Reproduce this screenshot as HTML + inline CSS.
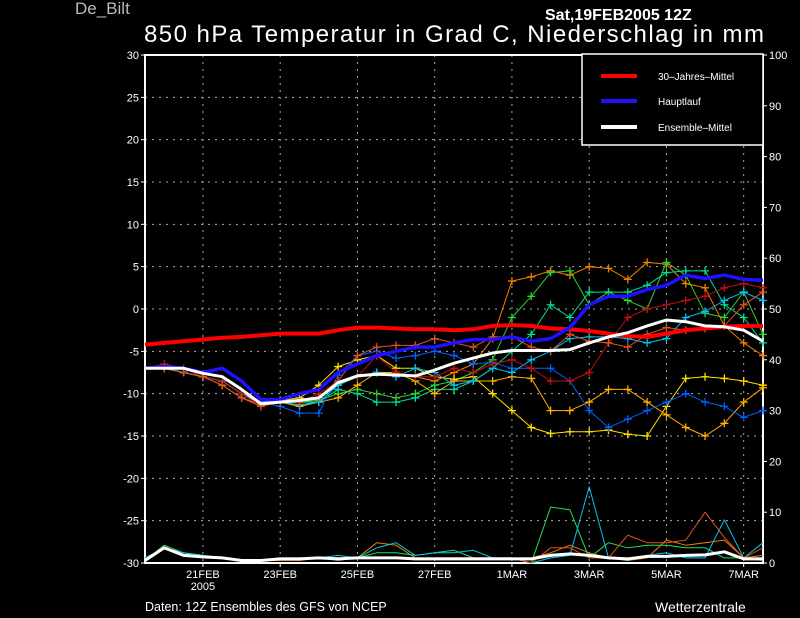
<!DOCTYPE html>
<html><head><meta charset="utf-8"><style>
html,body{margin:0;padding:0;background:#000;width:800px;height:618px;overflow:hidden}
svg{display:block;font-family:"Liberation Sans",sans-serif}
</style></head><body>
<svg id="c" width="800" height="618" viewBox="0 0 800 618">
<rect width="800" height="618" fill="#000"/>
<text x="75" y="14" fill="#bbb" font-size="17">De_Bilt</text>
<text x="545" y="20" fill="#fff" font-size="16" font-weight="bold">Sat,19FEB2005 12Z</text>
<text x="144" y="42" fill="#fff" font-size="24" textLength="620">850 hPa Temperatur in Grad C, Niederschlag in mm</text>
<g id="grid"></g>
<g id="axes"></g>
<g id="series"></g>
<g>
<rect x="582" y="54" width="181" height="91" fill="#000" stroke="#fff" stroke-width="1.5"/>
<line x1="601" y1="76" x2="637" y2="76" stroke="#f00" stroke-width="4"/>
<text x="658" y="80" fill="#fff" font-size="10">30–Jahres–Mittel</text>
<line x1="601" y1="101" x2="637" y2="101" stroke="#2010ff" stroke-width="4"/>
<text x="658" y="105" fill="#fff" font-size="10">Hauptlauf</text>
<line x1="601" y1="127" x2="637" y2="127" stroke="#fff" stroke-width="4"/>
<text x="658" y="131" fill="#fff" font-size="10">Ensemble–Mittel</text>
</g>
<text x="145" y="611" fill="#fff" font-size="12.5">Daten: 12Z Ensembles des GFS von NCEP</text>
<text x="655" y="612" fill="#fff" font-size="14">Wetterzentrale</text>
</svg>
<script>
const tempTicks=[30,25,20,15,10,5,0,-5,-10,-15,-20,-25,-30];
const precipTicks=[100,90,80,70,60,50,40,30,20,10,0];
const dateLabels=["21FEB","23FEB","25FEB","27FEB","1MAR","3MAR","5MAR","7MAR"];
const dateIdx=[3,7,11,15,19,23,27,31];
const climate=[-4.2,-4.0,-3.8,-3.6,-3.4,-3.3,-3.1,-2.9,-2.9,-2.9,-2.5,-2.2,-2.2,-2.3,-2.4,-2.4,-2.5,-2.4,-2.0,-1.9,-2.0,-2.3,-2.4,-2.6,-2.9,-3.2,-3.3,-2.9,-2.5,-2.3,-2.1,-2.0,-2.0];
const ensMean=[-7,-7,-7,-7.6,-8,-9.5,-11.2,-11,-10.8,-10.5,-8.7,-7.9,-7.7,-7.8,-7.9,-7.2,-6.4,-5.8,-5.2,-4.9,-4.9,-4.9,-4.8,-4,-3.3,-2.8,-2,-1.3,-1.5,-2,-2.1,-2.5,-3.8];
const mainRun=[-7,-6.8,-7,-7.5,-7,-8.5,-10.7,-10.7,-10,-9.5,-7.5,-6.5,-5.5,-5,-4.5,-4.5,-4,-3.6,-3.6,-3.3,-3.8,-3.5,-2.2,0.5,1.5,1.5,2.3,2.8,4,3.6,4,3.5,3.4];
const memA=[-7,-7,-7.5,-8,-9,-10.5,-11.3,-11,-11,-10.5,-9,-8,-7.5,-7.5,-8,-8.5,-7.5,-6.5,-3.5,3.3,3.8,4.5,4,5,4.8,3.5,5.5,5.3,3,2.5,-2,-4,-5.5];
const memB=[-7,-7,-7.5,-8,-8.5,-10,-11,-11,-11,-10.8,-10,-9.5,-10,-10.5,-10,-9,-8.5,-7.5,-6,-1,1.5,4.3,4.5,0.5,2,1,0,5.5,4,-0.5,-1,2,-3];
const memC=[-7,-7,-7.5,-8,-8.5,-10,-11,-11,-11,-11,-9.5,-10,-11,-11,-10.5,-9.5,-9.5,-8.5,-7,-5,-3,0.5,-1,2,2,2,2.8,4.3,4.5,4.5,0.5,-1,-4];
const memD=[-7,-7,-7.5,-8,-8.5,-10,-11,-10.8,-10.5,-9,-6.8,-6,-5.5,-7,-7,-8,-8.3,-8,-10,-12,-14,-14.7,-14.5,-14.5,-14.3,-14.8,-15,-11.5,-8.2,-8,-8.2,-8.5,-9];
const memE=[-7,-7,-7.5,-8,-8.5,-10,-11.2,-11,-11.5,-11,-10.5,-9,-7.5,-7.5,-8.5,-10,-8.5,-8.5,-8.5,-8,-8.2,-12,-12,-11,-9.5,-9.5,-11,-12.5,-14,-15,-13.5,-11,-9.3];
const memF=[-7,-7,-7.5,-8,-8.5,-10,-11,-11.5,-12.3,-12.3,-7.8,-5.5,-5,-5.8,-5.5,-5,-5.5,-6.5,-6.3,-7,-7,-7,-8.5,-12,-14,-13,-12,-11,-10,-11,-11.5,-12.8,-12];
const memG=[-7,-7,-7.5,-8,-8.5,-10,-11,-11,-11.3,-11,-9,-8,-7.5,-8,-7,-7.5,-9,-8.5,-7,-7.5,-6,-5,-3.5,-3.3,-3.3,-3.5,-4,-3.5,-1,-0.3,1,2,1];
const memH=[-7,-6.5,-7,-8,-8.5,-10,-11.5,-11,-11,-10,-8.5,-8,-5.5,-7.5,-8,-8,-7,-7.5,-6.5,-6,-7,-8.5,-8.5,-7.5,-4,-1,0,0.5,1,1.5,2.5,3,2.5];
const memI=[-7,-7,-7.5,-8,-9,-10.5,-11.5,-11,-11,-10.5,-8.5,-5.5,-4.5,-4.3,-4.3,-3.5,-4,-4.5,-3.3,-3.3,-4.5,-5,-3,-3.8,-4,-4.5,-3,-2.2,-2.5,-2.3,-2,0.5,2];
const prA=[1,3,2,1.5,1,0.5,0.5,0.5,0.5,1,1,1,4,3.5,1,1,1,1,1,1,1,2,3.5,2,1,0.5,1,4.5,3.5,4,4.5,1,1.5];
const prB=[0.5,3.5,2,1,1,0.5,0.5,0.5,1,1,1,1,2,2,1.5,2,2.5,1,1,1,0,11,10.5,1,4,3,3.5,3.5,3,3,1,1,0.5];
const prC=[1,3,2,1.5,1,0.5,0.5,1,1,1,1.5,1,3,4,1.5,2,2,2.5,1,1,0,1,1.5,15,1,0.5,1.5,2,1,1,8.5,1,4];
const prD=[0.5,3,1.5,1,1,0.5,0.5,0.5,0.5,1,0.5,1,1,1,1,1,1,1,1,1,0,3,3,1,1,5.5,4,4,4.5,10,5,1,3];
const prMean=[0.5,3,1.5,1.2,1,0.5,0.5,0.8,0.8,1,0.8,1,1,1,0.8,0.8,0.8,0.8,0.8,0.8,0.8,1.5,1.8,1.5,1,0.8,1.3,1.3,1.5,1.6,2.2,0.8,0.8];
const members=[memA,memB,memC,memD,memE,memF,memG,memH,memI];
const memColors=["#f08000","#30d030","#00e090","#ffe000","#ffb000","#0060ff","#00c0f0","#c01010","#e05020"];
const precs=[prA,prB,prC,prD];
const precColors=["#f08000","#20e060","#00c8f0","#e05020"];
const NS="http://www.w3.org/2000/svg";
const X0=145,X1=763,Y0=55,Y1=563;
const xs=i=>X0+i*(X1-X0)/32;
const yT=v=>Y1-(v+30)/60*(Y1-Y0);
const yP=v=>Y1-v/100*(Y1-Y0);
function mk(tag,attrs,parent){const e=document.createElementNS(NS,tag);for(const k in attrs)e.setAttribute(k,attrs[k]);parent.appendChild(e);return e;}
const grid=document.getElementById('grid'),axes=document.getElementById('axes'),ser=document.getElementById('series');
tempTicks.forEach(t=>{const y=yT(t);
 if(t>-30&&t<30){const l=mk('line',{x1:X0,x2:X1,y1:y,y2:y,stroke:'#aaa','stroke-dasharray':'2,5','stroke-width':1},grid);}
 const tx=mk('text',{x:139,y:y+4,fill:'#fff','font-size':11,'text-anchor':'end'},axes);tx.textContent=t;
 
 
 mk('line',{x1:X0-4,x2:X0,y1:y,y2:y,stroke:'#fff'},axes);});
precipTicks.forEach(t=>{const y=yP(t);
 const tx=mk('text',{x:769,y:y+4,fill:'#fff','font-size':11},axes);tx.textContent=t;
 
 
 mk('line',{x1:X1,x2:X1+4,y1:y,y2:y,stroke:'#fff'},axes);});
dateLabels.forEach((d,k)=>{const x=xs(dateIdx[k]);
 const l=mk('line',{x1:x,x2:x,y1:Y0,y2:Y1,stroke:'#aaa','stroke-dasharray':'2,5'},grid);
 
 
 mk('line',{x1:x,x2:x,y1:Y1,y2:Y1+4,stroke:'#fff'},axes);
 const tx=mk('text',{x:x,y:578,fill:'#fff','font-size':11,'text-anchor':'middle'},axes);tx.textContent=d;
 
 });
const yr=mk('text',{x:xs(3),y:590,fill:'#fff','font-size':11,'text-anchor':'middle'},axes);yr.textContent='2005';


const frame=mk('rect',{x:X0,y:Y0,width:X1-X0,height:Y1-Y0,fill:'none',stroke:'#fff','stroke-width':2},axes);


function line(arr,sc,col,w,name){const p=arr.map((v,i)=>xs(i).toFixed(1)+','+sc(v).toFixed(1)).join(' ');
 const e=mk('polyline',{points:p,fill:'none',stroke:col,'stroke-width':w,'stroke-linejoin':'round'},ser);
 
 return e;}
precs.forEach((a,k)=>line(a,yP,precColors[k],1,'precip-member'));
line(prMean,yP,'#fff',3,'precip-mean');
members.forEach((a,k)=>{line(a,yT,memColors[k],1,'temp-member');
 a.forEach((v,i)=>{if(i<1)return;const x=xs(i),y=yT(v);
  const m=mk('path',{d:`M${x-4},${y}H${x+4}M${x},${y-4}V${y+4}`,stroke:memColors[k],'stroke-width':1.3},ser);
  
  });});
line(climate,yT,'#f00',4,'climate-mean-line');
line(mainRun,yT,'#2010ff',3.5,'main-run-line');
line(ensMean,yT,'#fff',3,'ensemble-mean-line');
</script>
</body></html>
